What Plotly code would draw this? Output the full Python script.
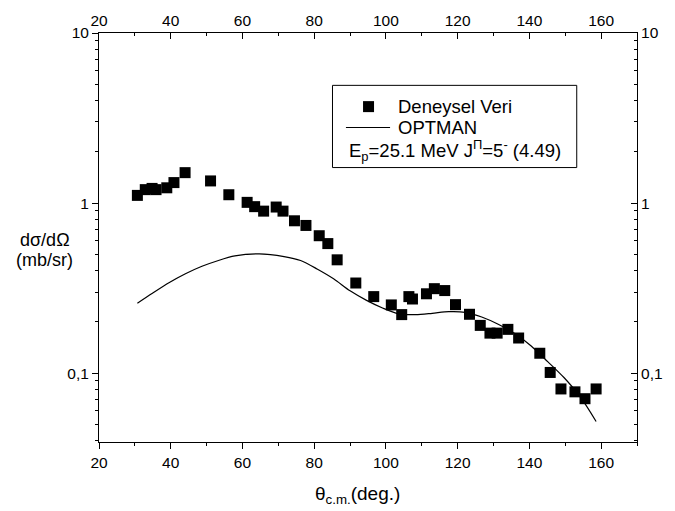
import math
import plotly.graph_objects as go

# Experimental data (Deneysel Veri)
exp_theta = [30.7, 32.9, 34.8, 35.9, 38.9, 40.9, 44.0, 51.1, 56.2, 61.3, 63.4, 65.9,
             69.4, 71.3, 74.5, 77.7, 81.4, 83.8, 86.4, 91.6, 96.6, 101.5, 104.4,
             106.4, 107.4, 111.3, 113.5, 116.4, 119.4, 123.3, 126.3, 129.0, 131.0,
             134.0, 137.0, 142.9, 145.8, 148.8, 152.7, 155.5, 158.6]
exp_xs = [1.11, 1.20, 1.22, 1.20, 1.23, 1.32, 1.51, 1.35, 1.12, 1.01, 0.953, 0.897,
          0.948, 0.897, 0.787, 0.739, 0.643, 0.578, 0.464, 0.339, 0.282, 0.252, 0.221,
          0.282, 0.273, 0.293, 0.314, 0.306, 0.253, 0.222, 0.191, 0.172, 0.172,
          0.181, 0.161, 0.131, 0.101, 0.0808, 0.0777, 0.0708, 0.0808]

# OPTMAN calculation
calc_theta = [30.7, 34.9, 39.5, 44.1, 48.7, 53.3, 57.9, 64.7, 71.6, 76.2, 80.8, 85.4,
              90.0, 94.6, 99.2, 103.7, 108.3, 112.9, 117.5, 122.1, 126.7, 131.3,
              135.9, 140.5, 145.1, 149.7, 154.3, 158.6]
calc_xs = [0.258, 0.295, 0.340, 0.384, 0.425, 0.460, 0.489, 0.503, 0.485, 0.460, 0.410,
           0.359, 0.305, 0.268, 0.241, 0.223, 0.221, 0.225, 0.230, 0.228, 0.214, 0.194,
           0.171, 0.1445, 0.117, 0.094, 0.072, 0.052]

x_ticks = [20, 40, 60, 80, 100, 120, 140, 160]
x_minor = [30, 50, 70, 90, 110, 130, 150, 170]
y_ticks = [0.1, 1, 10]
y_ticktext = ["0,1", "1", "10"]
y_minor = [m * d for d in (0.01, 0.1, 1) for m in range(2, 10) if 0.039 < m * d < 10]

legend_exp = "Deneysel Veri"
legend_calc = "OPTMAN"
info_text = "E<sub>p</sub>=25.1 MeV J<sup>Π</sup>=5<sup>-</sup> (4.49)"
x_title = "θ<sub>c.m.</sub>(deg.)"
y_title_1 = "dσ/dΩ"
y_title_2 = "(mb/sr)"

FONT = "Liberation Sans, Arial, sans-serif"
yrange = [math.log10(0.0394), 1]

fig = go.Figure()
fig.add_trace(go.Scatter(x=exp_theta, y=exp_xs, mode="markers", name=legend_exp,
                         marker=dict(symbol="square", size=11, color="black")))
fig.add_trace(go.Scatter(x=calc_theta, y=calc_xs, mode="lines", name=legend_calc,
                         line=dict(color="black", width=1.2, shape="spline", smoothing=0.8)))
# helper trace for the mirrored (top/right) axes
fig.add_trace(go.Scatter(x=calc_theta, y=calc_xs, mode="lines", xaxis="x2", yaxis="y2",
                         showlegend=False, hoverinfo="skip", opacity=0,
                         line=dict(color="rgba(0,0,0,0)")))

axis_common = dict(showgrid=False, zeroline=False, showline=True, linecolor="black",
                   linewidth=1, tickcolor="black", tickwidth=1,
                   tickfont=dict(family=FONT, size=15.5, color="black"))

fig.update_layout(
    width=675, height=511,
    margin=dict(l=99, r=31, t=26, b=69),
    paper_bgcolor="white", plot_bgcolor="white",
    font=dict(family=FONT, size=15, color="black"),
    showlegend=False,
    xaxis=dict(range=[20, 170], tickmode="array", tickvals=x_ticks, ticks="outside",
               ticklen=6, minor=dict(tickmode="array", tickvals=x_minor, ticks="outside",
                                    ticklen=3, tickcolor="black"),
               **axis_common),
    yaxis=dict(type="log", range=yrange, tickmode="array", tickvals=y_ticks,
               ticktext=y_ticktext, ticks="outside", ticklen=6,
               minor=dict(tickmode="array", tickvals=y_minor, ticks="outside",
                          ticklen=3, tickcolor="black"),
               **axis_common),
    xaxis2=dict(range=[20, 170], overlaying="x", side="top", anchor="y2",
                tickmode="array", tickvals=x_ticks, ticks="inside", ticklen=6,
                minor=dict(tickmode="array", tickvals=x_minor, ticks="inside",
                           ticklen=3, tickcolor="black"),
                **axis_common),
    yaxis2=dict(type="log", range=yrange, overlaying="y", side="right", anchor="x2",
                tickmode="array", tickvals=y_ticks, ticktext=y_ticktext,
                ticks="inside", ticklen=6,
                minor=dict(tickmode="array", tickvals=y_minor, ticks="inside",
                           ticklen=3, tickcolor="black"),
                **axis_common),
    shapes=[
        dict(type="rect", xref="paper", yref="paper", x0=0.434, x1=0.888,
             y0=0.671, y1=0.872, line=dict(color="black", width=1),
             fillcolor="rgba(0,0,0,0)"),
        # legend sample: square marker
        dict(type="rect", xref="paper", yref="paper", xsizemode="pixel",
             ysizemode="pixel", xanchor=0.501, yanchor=0.820,
             x0=-5.5, x1=5.5, y0=-5.5, y1=5.5, fillcolor="black",
             line=dict(width=0)),
        # legend sample: line
        dict(type="line", xref="paper", yref="paper", x0=0.459, x1=0.541,
             y0=0.769, y1=0.769, line=dict(color="black", width=1.2)),
    ],
    annotations=[
        dict(text=legend_exp, xref="paper", yref="paper", x=0.552, y=0.820,
             xanchor="left", yanchor="middle", showarrow=False,
             font=dict(family=FONT, size=18.5)),
        dict(text=legend_calc, xref="paper", yref="paper", x=0.552, y=0.769,
             xanchor="left", yanchor="middle", showarrow=False,
             font=dict(family=FONT, size=18.5)),
        dict(text=info_text, xref="paper", yref="paper", x=0.4606, y=0.712,
             xanchor="left", yanchor="middle", showarrow=False,
             font=dict(family=FONT, size=18.5)),
        dict(text=y_title_1, xref="paper", yref="paper", x=-0.101, y=0.493,
             xanchor="center", yanchor="middle", showarrow=False,
             font=dict(family=FONT, size=18)),
        dict(text=y_title_2, xref="paper", yref="paper", x=-0.101, y=0.445,
             xanchor="center", yanchor="middle", showarrow=False,
             font=dict(family=FONT, size=18)),
        dict(text=x_title, xref="paper", yref="paper", x=0.481, y=-0.13,
             xanchor="center", yanchor="middle", showarrow=False,
             font=dict(family=FONT, size=19)),
    ],
)

fig.write_html("out.html")
